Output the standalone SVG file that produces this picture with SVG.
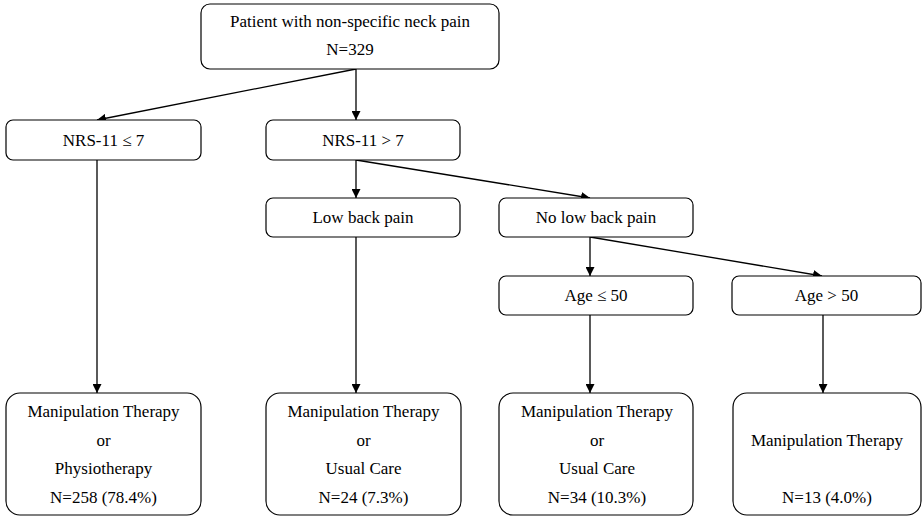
<svg xmlns="http://www.w3.org/2000/svg" width="924" height="516" viewBox="0 0 924 516" font-family="Liberation Serif, Times New Roman, DejaVu Serif, serif">
<defs>
<marker id="ah" viewBox="0 0 10 10" refX="10" refY="5" markerWidth="9" markerHeight="9" markerUnits="userSpaceOnUse" orient="auto">
<path d="M0,0 L10,5 L0,10 z" fill="#000"/>
</marker>
</defs>
<style>
rect{fill:#fff;stroke:#000;stroke-width:1.2}
text{font-size:17px;fill:#000;text-anchor:middle}
.c{stroke:#000;stroke-width:1.3;fill:none;marker-end:url(#ah)}
</style>
<rect width="924" height="516" style="fill:#fff;stroke:none"/>
<g id="connectors">
<line class="c" x1="356" y1="69" x2="356" y2="120"/>
<line class="c" x1="356" y1="69" x2="97" y2="120"/>
<line class="c" x1="97" y1="160" x2="97" y2="393"/>
<line class="c" x1="356" y1="160" x2="356" y2="198"/>
<line class="c" x1="356" y1="160" x2="590" y2="198"/>
<line class="c" x1="356" y1="237" x2="356" y2="393"/>
<line class="c" x1="590" y1="237" x2="590" y2="276"/>
<line class="c" x1="590" y1="237" x2="822" y2="276"/>
<line class="c" x1="590" y1="315" x2="590" y2="393"/>
<line class="c" x1="823" y1="315" x2="823" y2="393"/>
</g>
<g id="root">
<rect x="201" y="4" width="298" height="65" rx="9"/>
<text x="350" y="27">Patient with non-specific neck pain</text>
<text x="350" y="55">N=329</text>
</g>
<g id="nrs-le7">
<rect x="6" y="120" width="195" height="40" rx="7"/>
<text x="103.5" y="146">NRS-11 ≤ 7</text>
</g>
<g id="nrs-gt7">
<rect x="266" y="120" width="194" height="40" rx="7"/>
<text x="363" y="146">NRS-11 &gt; 7</text>
</g>
<g id="lbp">
<rect x="266" y="198" width="194" height="39" rx="7"/>
<text x="363" y="223">Low back pain</text>
</g>
<g id="no-lbp">
<rect x="499" y="198" width="194" height="39" rx="7"/>
<text x="596" y="223">No low back pain</text>
</g>
<g id="age-le50">
<rect x="499" y="276" width="194" height="39" rx="7"/>
<text x="596" y="301">Age ≤ 50</text>
</g>
<g id="age-gt50">
<rect x="732" y="276" width="189" height="39" rx="7"/>
<text x="826.5" y="301">Age &gt; 50</text>
</g>
<g id="out1">
<rect x="6" y="393" width="195" height="122" rx="14"/>
<text x="103.5" y="417">Manipulation Therapy</text>
<text x="103.5" y="446">or</text>
<text x="103.5" y="474">Physiotherapy</text>
<text x="103.5" y="503">N=258 (78.4%)</text>
</g>
<g id="out2">
<rect x="266" y="393" width="195" height="122" rx="14"/>
<text x="363.5" y="417">Manipulation Therapy</text>
<text x="363.5" y="446">or</text>
<text x="363.5" y="474">Usual Care</text>
<text x="363.5" y="503">N=24 (7.3%)</text>
</g>
<g id="out3">
<rect x="499" y="393" width="194" height="122" rx="14"/>
<text x="597" y="417">Manipulation Therapy</text>
<text x="597" y="446">or</text>
<text x="597" y="474">Usual Care</text>
<text x="597" y="503">N=34 (10.3%)</text>
</g>
<g id="out4">
<rect x="733" y="393" width="188" height="122" rx="14"/>
<text x="827" y="446">Manipulation Therapy</text>
<text x="827" y="503">N=13 (4.0%)</text>
</g>
</svg>
